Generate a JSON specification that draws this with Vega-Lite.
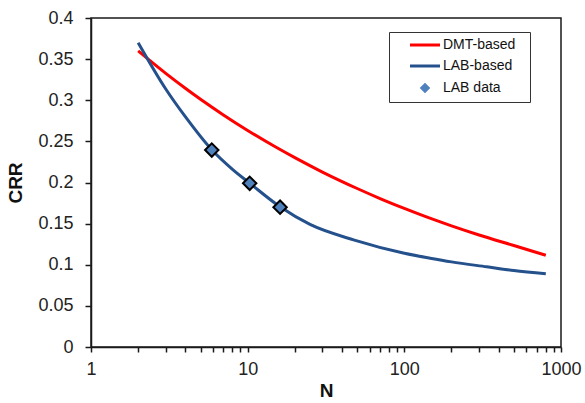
{
  "$schema": "https://vega.github.io/schema/vega-lite/v6.json",
  "width": 470,
  "height": 329,
  "autosize": "none",
  "padding": {"left": 91, "top": 18, "right": 24, "bottom": 56},
  "background": "white",
  "config": {
    "font": "Liberation Sans",
    "view": {"stroke": "#1a1a1a", "strokeWidth": 1.5},
    "axis": {
      "grid": false,
      "ticks": true,
      "domainColor": "#1a1a1a",
      "domainWidth": 1.5,
      "tickColor": "#1a1a1a",
      "tickWidth": 1.5,
      "labelFont": "Liberation Sans",
      "labelFontSize": 18,
      "labelColor": "#222222",
      "titleFont": "Liberation Sans",
      "titleFontSize": 19,
      "titleFontWeight": "bold",
      "titleColor": "#111111"
    }
  },
  "datasets": {
    "curves": [
      {"N": 2, "CRR": 0.36, "series": "DMT-based"},
      {"N": 3, "CRR": 0.3327, "series": "DMT-based"},
      {"N": 4, "CRR": 0.3146, "series": "DMT-based"},
      {"N": 5, "CRR": 0.3012, "series": "DMT-based"},
      {"N": 7, "CRR": 0.2822, "series": "DMT-based"},
      {"N": 10, "CRR": 0.2633, "series": "DMT-based"},
      {"N": 15, "CRR": 0.2434, "series": "DMT-based"},
      {"N": 20, "CRR": 0.2302, "series": "DMT-based"},
      {"N": 30, "CRR": 0.2127, "series": "DMT-based"},
      {"N": 50, "CRR": 0.1927, "series": "DMT-based"},
      {"N": 70, "CRR": 0.1805, "series": "DMT-based"},
      {"N": 100, "CRR": 0.1685, "series": "DMT-based"},
      {"N": 150, "CRR": 0.1557, "series": "DMT-based"},
      {"N": 200, "CRR": 0.1473, "series": "DMT-based"},
      {"N": 300, "CRR": 0.1362, "series": "DMT-based"},
      {"N": 500, "CRR": 0.1234, "series": "DMT-based"},
      {"N": 800, "CRR": 0.1115, "series": "DMT-based"},
      {"N": 2, "CRR": 0.37, "series": "LAB-based"},
      {"N": 3, "CRR": 0.3137, "series": "LAB-based"},
      {"N": 4, "CRR": 0.28, "series": "LAB-based"},
      {"N": 5.9, "CRR": 0.2398, "series": "LAB-based"},
      {"N": 8, "CRR": 0.216, "series": "LAB-based"},
      {"N": 10.3, "CRR": 0.1992, "series": "LAB-based"},
      {"N": 16.1, "CRR": 0.1705, "series": "LAB-based"},
      {"N": 25, "CRR": 0.149, "series": "LAB-based"},
      {"N": 48, "CRR": 0.13, "series": "LAB-based"},
      {"N": 100, "CRR": 0.114, "series": "LAB-based"},
      {"N": 146, "CRR": 0.108, "series": "LAB-based"},
      {"N": 200, "CRR": 0.1035, "series": "LAB-based"},
      {"N": 336, "CRR": 0.0975, "series": "LAB-based"},
      {"N": 500, "CRR": 0.093, "series": "LAB-based"},
      {"N": 800, "CRR": 0.089, "series": "LAB-based"}
    ],
    "points": [
      {"N": 5.9, "CRR": 0.2395, "series": "LAB data"},
      {"N": 10.3, "CRR": 0.199, "series": "LAB data"},
      {"N": 16.1, "CRR": 0.17, "series": "LAB data"}
    ]
  },
  "encoding": {
    "x": {
      "field": "N",
      "type": "quantitative",
      "scale": {"type": "log", "domain": [1, 1000], "nice": false},
      "axis": {
        "title": "N",
        "values": [1, 2, 3, 4, 5, 6, 7, 8, 9, 10, 20, 30, 40, 50, 60, 70, 80, 90, 100, 200, 300, 400, 500, 600, 700, 800, 900, 1000],
        "labelExpr": "indexof([1, 10, 100, 1000], datum.value) >= 0 ? format(datum.value, 'd') : ''",
        "tickSize": 5,
        "labelPadding": 8,
        "titlePadding": 3,
        "labelFlush": false,
        "labelOverlap": false
      }
    },
    "y": {
      "field": "CRR",
      "type": "quantitative",
      "scale": {"domain": [0, 0.4], "nice": false},
      "axis": {
        "title": "CRR",
        "values": [0, 0.05, 0.1, 0.15, 0.2, 0.25, 0.3, 0.35, 0.4],
        "format": "~g",
        "tickSize": 6,
        "labelPadding": 12,
        "titlePadding": 12
      }
    },
    "color": {
      "field": "series",
      "type": "nominal",
      "scale": {
        "domain": ["DMT-based", "LAB-based", "LAB data"],
        "range": ["#ff0000", "#24508c", "#4f81bd"]
      },
      "legend": {
        "title": null,
        "orient": "none",
        "legendX": 298,
        "legendY": 14,
        "strokeColor": "#333333",
        "fillColor": "white",
        "padding": 6,
        "symbolType": "stroke",
        "symbolSize": 900,
        "symbolStrokeWidth": 3,
        "symbolOffset": 23,
        "labelFont": "Liberation Sans",
        "labelFontSize": 14,
        "labelColor": "#111111",
        "labelOffset": 11,
        "labelExpr": "datum.label + '  \u200b'",
        "rowPadding": 7,
        "encode": {
          "symbols": {
            "update": {
              "shape": {"signal": "datum.value === 'LAB data' ? 'diamond' : 'stroke'"},
              "size": {"signal": "datum.value === 'LAB data' ? 60 : 900"},
              "fill": {"signal": "datum.value === 'LAB data' ? '#4f81bd' : 'transparent'"},
              "stroke": {"signal": "datum.value === 'LAB data' ? '#000000' : (datum.value === 'DMT-based' ? '#ff0000' : '#24508c')"},
              "strokeWidth": {"signal": "datum.value === 'LAB data' ? 2 : 3"}
            }
          }
        }
      }
    }
  },
  "layer": [
    {
      "data": {"name": "curves"},
      "mark": {"type": "line", "strokeWidth": 3, "interpolate": "monotone"},
      "encoding": {"detail": {"field": "series"}}
    },
    {
      "data": {"name": "points"},
      "mark": {"type": "point", "shape": "diamond", "filled": true, "size": 180, "stroke": "#000000", "strokeWidth": 2, "opacity": 1}
    }
  ]
}
